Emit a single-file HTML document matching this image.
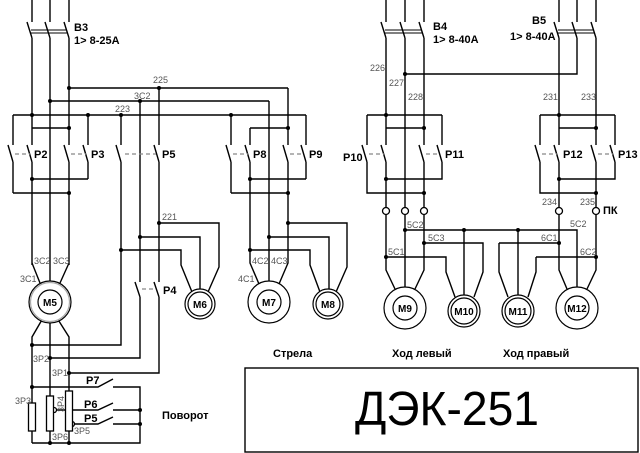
<!DOCTYPE html>
<html><head><meta charset="utf-8"><style>
html,body{margin:0;padding:0;background:#fff}
svg{display:block}
text{font-family:"Liberation Sans",sans-serif}
.s{font-size:9px;fill:#555}
.b{font-size:11px;font-weight:bold;fill:#000}
</style></head><body>
<svg width="640" height="453" viewBox="0 0 640 453" xmlns="http://www.w3.org/2000/svg">
<g stroke="#000" stroke-width="1.4" fill="none">
<!-- Breakers B3 -->
<path d="M32 0V22M27 22L32 38M32 38V145 M50 0V22M45 22L50 38M50 38V282 M69 0V22M64 22L69 38M69 38V145"/>
<path d="M31 30H67M31 33H67" stroke-width="1"/>
<!-- horizontals top -->
<path d="M69 88H288M50 101H269M13 115H306"/>
<!-- P2/P3 -->
<path d="M13 115V145M8 145L13 162M13 162V193 M27 145L32 162M32 162V265 M64 145L69 162M69 162V265 M88 115V145M83 145L88 162M88 162V179"/>
<path d="M32 128H69M32 179H88M13 193H69"/>
<!-- P5 -->
<path d="M121 115V145M116 145L121 162M121 162V345H32 M159 88V145M154 145L159 162M159 162V282M154 282L159 297M159 297V373H69 M140 101V282M135 282L140 297M140 297V358H50"/>
<!-- M6 wires -->
<path d="M159 223H219V267L208 292 M140 237H200V291 M121 250H181V265L192 292"/>
<!-- P8/P9 -->
<path d="M231 115V145M226 145L231 162M231 162V193 M250 128V145M245 145L250 162M250 162V263L259 284 M269 101V288 M288 88V145M283 145L288 162M288 162V263L279 284 M306 115V145M301 145L306 162M306 162V179"/>
<path d="M250 128H288M250 179H306M231 193H288"/>
<path d="M288 223H347V267L336 292 M269 237H329V291 M250 250H310V265L320 292"/>
<!-- M5 wires -->
<path d="M32 263L40 283M69 263L60 283M43 318L32 337V443 M57 318L69 337V443 M50 320V443"/>
<!-- lower resistor network -->
<path d="M32 387H98L113 379M113 387H140V443H32"/>
<path d="M54 410H98L113 403M113 410H140M72 424H98L113 417M113 424H140"/>
<!-- Breakers B4 -->
<path d="M386 0V22M381 22L386 38M386 38V145 M405 0V22M400 22L405 38M405 38V207 M424 0V22M419 22L424 38M424 38V145"/>
<path d="M385 30H422M385 33H422" stroke-width="1"/>
<!-- B5 -->
<path d="M559 0V22M554 22L559 38M559 38V145 M577 0V22M572 22L577 38M577 38V74H405 M596 0V22M591 22L596 38M596 38V145"/>
<path d="M558 30H594M558 33H594" stroke-width="1"/>
<!-- P10/P11 -->
<path d="M367 115H442M367 115V145M362 145L367 162M367 162V193H424 M381 145L386 162M386 162V207 M419 145L424 162M424 162V207 M442 115V145M437 145L442 162M442 162V179H386 M386 128H424"/>
<!-- P12/P13 -->
<path d="M540 115H615M540 115V145M535 145L540 162M540 162V193H596 M554 145L559 162M559 162V207 M591 145L596 162M596 162V207 M615 115V145M610 145L615 162M615 162V179H559 M559 128H596"/>
<!-- lower right -->
<path d="M386 215V270L395 289 M405 215V287 M424 215V270L415 289 M405 230H577V287 M424 243H483V272L474 297 M386 257H446V272L455 297 M464 230V295 M518 230V295 M499 243H559 M499 243V272L508 297 M536 257H596 M536 257V272L528 297 M559 215V270L567 289 M596 215V270L587 289"/>
<!-- big box -->
<rect x="245" y="368" width="393" height="84"/>
</g>
<!-- dashed -->
<g stroke="#888" stroke-width="1.2" stroke-dasharray="4,3">
<path d="M15 154H30M71 154H86M125 154H156M233 154H248M290 154H304M142 289H156M369 154H384M426 154H440M542 154H557M598 154H613"/>
</g>
<!-- terminals -->
<g fill="#fff" stroke="#000" stroke-width="1.3">
<circle cx="386" cy="211" r="3.5"/><circle cx="405" cy="211" r="3.5"/><circle cx="424" cy="211" r="3.5"/><circle cx="559" cy="211" r="3.5"/><circle cx="596" cy="211" r="3.5"/>
<circle cx="54" cy="410" r="2.5"/><circle cx="72" cy="424" r="2.5"/>
</g>
<!-- resistors -->
<g fill="#fff" stroke="#000" stroke-width="1.3">
<rect x="28.5" y="403" width="7" height="28"/><rect x="46.5" y="396" width="7" height="35"/><rect x="65.5" y="391" width="7" height="40"/>
</g>
<!-- motors -->
<g fill="#fff" stroke="#000" stroke-width="1.2">
<circle cx="50" cy="302" r="21"/><circle cx="50" cy="302" r="19.5" stroke="#aaa"/><circle cx="50" cy="302" r="12"/>
<circle cx="200" cy="304" r="15"/><circle cx="200" cy="304" r="12"/>
<circle cx="269" cy="302" r="21"/><circle cx="269" cy="302" r="12"/>
<circle cx="328" cy="304" r="15"/><circle cx="328" cy="304" r="12"/>
<circle cx="405" cy="308" r="21"/><circle cx="405" cy="308" r="12"/>
<circle cx="464" cy="311" r="16"/><circle cx="464" cy="311" r="13"/>
<circle cx="518" cy="311" r="16"/><circle cx="518" cy="311" r="13"/>
<circle cx="577" cy="308" r="21"/><circle cx="577" cy="308" r="12"/>
</g>
<g font-size="10" font-weight="bold" text-anchor="middle">
<text x="50" y="306">M5</text><text x="200" y="308">M6</text><text x="269" y="306">M7</text><text x="328" y="308">M8</text>
<text x="405" y="312">M9</text><text x="464" y="315">M10</text><text x="518" y="315">M11</text><text x="577" y="312">M12</text>
</g>
<!-- dots -->
<g fill="#000">
<circle cx="69" cy="88" r="2"/><circle cx="159" cy="88" r="2"/><circle cx="50" cy="101" r="2"/><circle cx="140" cy="101" r="2"/>
<circle cx="32" cy="115" r="2"/><circle cx="88" cy="115" r="2"/><circle cx="121" cy="115" r="2"/><circle cx="231" cy="115" r="2"/>
<circle cx="69" cy="128" r="2"/><circle cx="32" cy="179" r="2"/><circle cx="69" cy="193" r="2"/>
<circle cx="288" cy="128" r="2"/><circle cx="250" cy="179" r="2"/><circle cx="288" cy="193" r="2"/>
<circle cx="159" cy="223" r="2"/><circle cx="140" cy="237" r="2"/><circle cx="121" cy="250" r="2"/>
<circle cx="288" cy="223" r="2"/><circle cx="269" cy="237" r="2"/><circle cx="250" cy="250" r="2"/>
<circle cx="32" cy="345" r="2"/><circle cx="50" cy="358" r="2"/><circle cx="69" cy="373" r="2"/><circle cx="32" cy="387" r="2"/>
<circle cx="140" cy="410" r="2"/><circle cx="140" cy="424" r="2"/><circle cx="50" cy="443" r="2"/><circle cx="69" cy="443" r="2"/>
<circle cx="405" cy="74" r="2"/><circle cx="386" cy="115" r="2"/><circle cx="424" cy="128" r="2"/><circle cx="386" cy="179" r="2"/><circle cx="424" cy="193" r="2"/>
<circle cx="559" cy="115" r="2"/><circle cx="596" cy="128" r="2"/><circle cx="559" cy="179" r="2"/><circle cx="596" cy="193" r="2"/>
<circle cx="405" cy="230" r="2"/><circle cx="464" cy="230" r="2"/><circle cx="518" cy="230" r="2"/><circle cx="424" cy="243" r="2"/><circle cx="386" cy="257" r="2"/>
<circle cx="559" cy="243" r="2"/><circle cx="596" cy="257" r="2"/>
</g>
<!-- labels -->
<text class="b" x="74" y="31">B3</text><text class="b" x="74" y="44" font-weight="normal" font-size="10.5">1&gt; 8-25A</text>
<text class="b" x="433" y="30">B4</text><text class="b" x="433" y="43" font-size="10.5">1&gt; 8-40A</text>
<text class="b" x="532" y="24">B5</text><text class="b" x="510" y="40" font-size="10.5">1&gt; 8-40A</text>
<text class="s" x="153" y="83">225</text><text class="s" x="134" y="99">3C2</text><text class="s" x="115" y="112">223</text><text class="s" x="162" y="220">221</text>
<text class="b" x="34" y="158">P2</text><text class="b" x="91" y="158">P3</text><text class="b" x="162" y="158">P5</text><text class="b" x="253" y="158">P8</text><text class="b" x="309" y="158">P9</text>
<text class="b" x="163" y="294">P4</text>
<text class="s" x="34" y="264">3C2</text><text class="s" x="53" y="264">3C3</text><text class="s" x="20" y="282">3C1</text>
<text class="s" x="252" y="264">4C2</text><text class="s" x="271" y="264">4C3</text><text class="s" x="238" y="282">4C1</text>
<text class="s" x="33" y="362">3P2</text><text class="s" x="52" y="376">3P1</text><text class="s" x="15" y="404">3P3</text><text class="s" x="52" y="440">3P6</text><text class="s" x="74" y="434">3P5</text>
<text class="s" transform="translate(64,412) rotate(-90)">3P4</text>
<text class="b" x="86" y="384">P7</text><text class="b" x="84" y="408">P6</text><text class="b" x="84" y="422">P5</text>
<text class="b" x="162" y="419" font-size="12">Поворот</text>
<text class="s" x="370" y="71">226</text><text class="s" x="389" y="86">227</text><text class="s" x="408" y="100">228</text><text class="s" x="543" y="100">231</text><text class="s" x="581" y="100">233</text>
<text class="b" x="343" y="161">P10</text><text class="b" x="445" y="158">P11</text><text class="b" x="563" y="158">P12</text><text class="b" x="618" y="158">P13</text>
<text class="s" x="542" y="205">234</text><text class="s" x="580" y="205">235</text><text class="b" x="603" y="214">ПК</text>
<text class="s" x="407" y="228">5C2</text><text class="s" x="570" y="227">5C2</text><text class="s" x="428" y="241">5C3</text><text class="s" x="388" y="255">5C1</text><text class="s" x="541" y="241">6C1</text><text class="s" x="580" y="255">6C2</text>
<text class="b" x="273" y="357" font-size="12">Стрела</text><text class="b" x="392" y="357" font-size="12">Ход левый</text><text class="b" x="503" y="357" font-size="12">Ход правый</text>
<text x="355" y="425" font-size="48" textLength="184" lengthAdjust="spacingAndGlyphs">ДЭК-251</text>
</svg>
</body></html>
